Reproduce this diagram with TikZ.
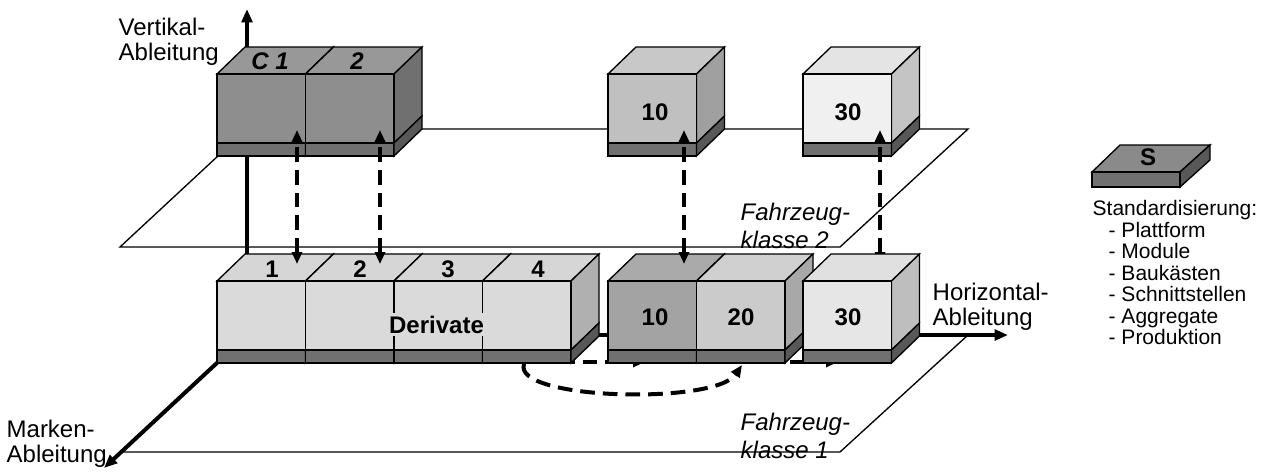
\documentclass[tikz,border=0pt]{standalone}
\usepackage{fontspec}
\setmainfont{Liberation Sans}
\usetikzlibrary{arrows.meta}

\definecolor{sockel}{RGB}{112,112,112}
\definecolor{sockelseite}{RGB}{88,88,88}

\newcommand{\quader}[5]{%
  \draw[fill=#4] (#1,#2) -- ++(28,-27) -- ++(88.5,0) -- ++(-28,27) -- cycle;
  \draw[fill=#5] (#1+88.5,#2) -- ++(28,-27) -- ++(0,69) -- ++(-28,27) -- cycle;
  \draw[fill=#3] (#1,#2) rectangle ++(88.5,69);
  \draw[fill=sockel] (#1,#2+69) rectangle ++(88.5,13);
  \draw[fill=sockelseite] (#1+88.5,#2+69) -- ++(28,-27) -- ++(0,13) -- ++(-28,27) -- cycle;
}

\tikzset{every picture/.style={line width=1pt}}
\tikzset{
  achse/.style={line width=3pt,-{Triangle[length=10pt,width=8pt]}},
  ebene/.style={fill=white,line width=1pt},
  bezug/.style={line width=3pt,dash pattern={on 11pt off 6pt},{Triangle[length=9pt,width=7.5pt]}-{Triangle[length=9pt,width=7.5pt]}},
  wandel/.style={line width=3pt,dash pattern={on 11pt off 6pt},-{Triangle[length=9pt,width=7.5pt]}},
  beschriftung/.style={anchor=north west,inner sep=0.75pt,align=left,font=\fontsize{18}{18.75}\selectfont},
  klasse/.style={anchor=north west,inner sep=0.75pt,align=left,font=\fontsize{18}{21}\selectfont\itshape},
  nummer/.style={anchor=base,inner sep=0.75pt,font=\fontsize{18}{21}\selectfont\bfseries}
}

\begin{document}
\begin{tikzpicture}[x=0.75pt,y=0.75pt,yscale=-1,xscale=1]
\useasboundingbox (0,0) rectangle (1266,471);

\coordinate (ursprung) at (247,335);
\coordinate (vspitze) at (247,9);
\coordinate (hspitze) at (1008,335);
\coordinate (mspitze) at (104,468);

\draw [ebene] (ursprung) -- (968,335) -- (840,452) -- (122,452) -- cycle;
\draw [ebene] (247,129) -- (968,129) -- (840,247) -- (120,247) -- cycle;

\draw [achse] (ursprung) -- (vspitze);
\draw [achse] (ursprung) -- (hspitze);
\draw [achse] (ursprung) -- (mspitze);

\coordinate (a4) at (560,362);
\coordinate (a10) at (645,362);
\coordinate (a20) at (745,362);
\coordinate (a30) at (838,362);
\draw [wandel] (a4) -- (a10);
\draw [wandel] (a20) -- (a30);

\quader{217}{74}{{rgb,255:red,142;green,142;blue,142}}{{rgb,255:red,152;green,152;blue,152}}{{rgb,255:red,112;green,112;blue,112}}
\quader{305.5}{74}{{rgb,255:red,142;green,142;blue,142}}{{rgb,255:red,152;green,152;blue,152}}{{rgb,255:red,112;green,112;blue,112}}
\quader{608}{74}{{rgb,255:red,192;green,192;blue,192}}{{rgb,255:red,200;green,200;blue,200}}{{rgb,255:red,160;green,160;blue,160}}
\quader{803}{74}{{rgb,255:red,240;green,240;blue,240}}{{rgb,255:red,228;green,228;blue,228}}{{rgb,255:red,196;green,196;blue,196}}

\quader{217}{281}{{rgb,255:red,218;green,218;blue,218}}{{rgb,255:red,214;green,214;blue,214}}{{rgb,255:red,176;green,176;blue,176}}
\quader{305.5}{281}{{rgb,255:red,218;green,218;blue,218}}{{rgb,255:red,214;green,214;blue,214}}{{rgb,255:red,176;green,176;blue,176}}
\quader{394}{281}{{rgb,255:red,218;green,218;blue,218}}{{rgb,255:red,214;green,214;blue,214}}{{rgb,255:red,176;green,176;blue,176}}
\quader{482.5}{281}{{rgb,255:red,218;green,218;blue,218}}{{rgb,255:red,214;green,214;blue,214}}{{rgb,255:red,176;green,176;blue,176}}
\quader{608}{281}{{rgb,255:red,163;green,163;blue,163}}{{rgb,255:red,170;green,170;blue,170}}{{rgb,255:red,140;green,140;blue,140}}
\quader{696.5}{281}{{rgb,255:red,203;green,203;blue,203}}{{rgb,255:red,208;green,208;blue,208}}{{rgb,255:red,168;green,168;blue,168}}

\coordinate (o1) at (297,130);
\coordinate (u1) at (297,264);
\coordinate (o2) at (380,130);
\coordinate (u2) at (380,264);
\coordinate (o10) at (684,130);
\coordinate (u10) at (684,264);
\coordinate (o30) at (880,130);
\coordinate (u30) at (880,264);
\draw [bezug] (u1) -- (o1);
\draw [bezug] (u2) -- (o2);
\draw [bezug] (u10) -- (o10);
\draw [bezug] (u30) -- (o30);

\quader{803}{281}{{rgb,255:red,230;green,230;blue,230}}{{rgb,255:red,224;green,224;blue,224}}{{rgb,255:red,190;green,190;blue,190}}

\coordinate (b4) at (524,364);
\coordinate (b20) at (742,365);
\draw [wandel] (b4) .. controls (512,400) and (715,405) .. (b20);

\draw [fill={rgb,255:red,138;green,138;blue,138}] (1092,172) -- (1120,145) -- (1210,145) -- (1180,172) -- cycle;
\draw [fill={rgb,255:red,88;green,88;blue,88}] (1180,172) -- (1210,145) -- (1210,160) -- (1180,187) -- cycle;
\draw [fill=sockel] (1092,172) rectangle (1180,187);

\draw (270,69) node (c1) [nummer] {\itshape C 1};
\draw (357,69) node (c2) [nummer] {\itshape 2};
\draw (655,120) node (o10txt) [nummer] {10};
\draw (848,120) node (o30txt) [nummer] {30};
\draw (272,277) node (n1) [nummer] {1};
\draw (360,277) node (n2) [nummer] {2};
\draw (448,277) node (n3) [nummer] {3};
\draw (538,277) node (n4) [nummer] {4};
\draw (436.5,333) node (derivate) [nummer,fill={rgb,255:red,218;green,218;blue,218},inner sep=2pt] {Derivate};
\draw (655,325) node (u10txt) [nummer] {10};
\draw (741,325) node (u20txt) [nummer] {20};
\draw (848,325) node (u30txt) [nummer] {30};
\draw (1148,165) node (s) [nummer] {S};

\draw (117,16) node (vertikal) [beschriftung] {Vertikal-\\Ableitung};
\draw (931,281.5) node (horizontal) [beschriftung] {Horizontal-\\Ableitung};
\draw (5,418.5) node (marken) [beschriftung] {Marken-\\Ableitung};
\draw (739,201.5) node (klasse2) [klasse] {Fahrzeug-\\klasse 2};
\draw (739,411.5) node (klasse1) [klasse] {Fahrzeug-\\klasse 1};
\draw (1091,199) node (standard) [anchor=north west,inner sep=0.75pt,align=left,font=\fontsize{15.75}{16.1}\selectfont] {Standardisierung:\\\hspace*{12pt}- Plattform\\\hspace*{12pt}- Module\\\hspace*{12pt}- Baukästen\\\hspace*{12pt}- Schnittstellen\\\hspace*{12pt}- Aggregate\\\hspace*{12pt}- Produktion};
\end{tikzpicture}
\end{document}
